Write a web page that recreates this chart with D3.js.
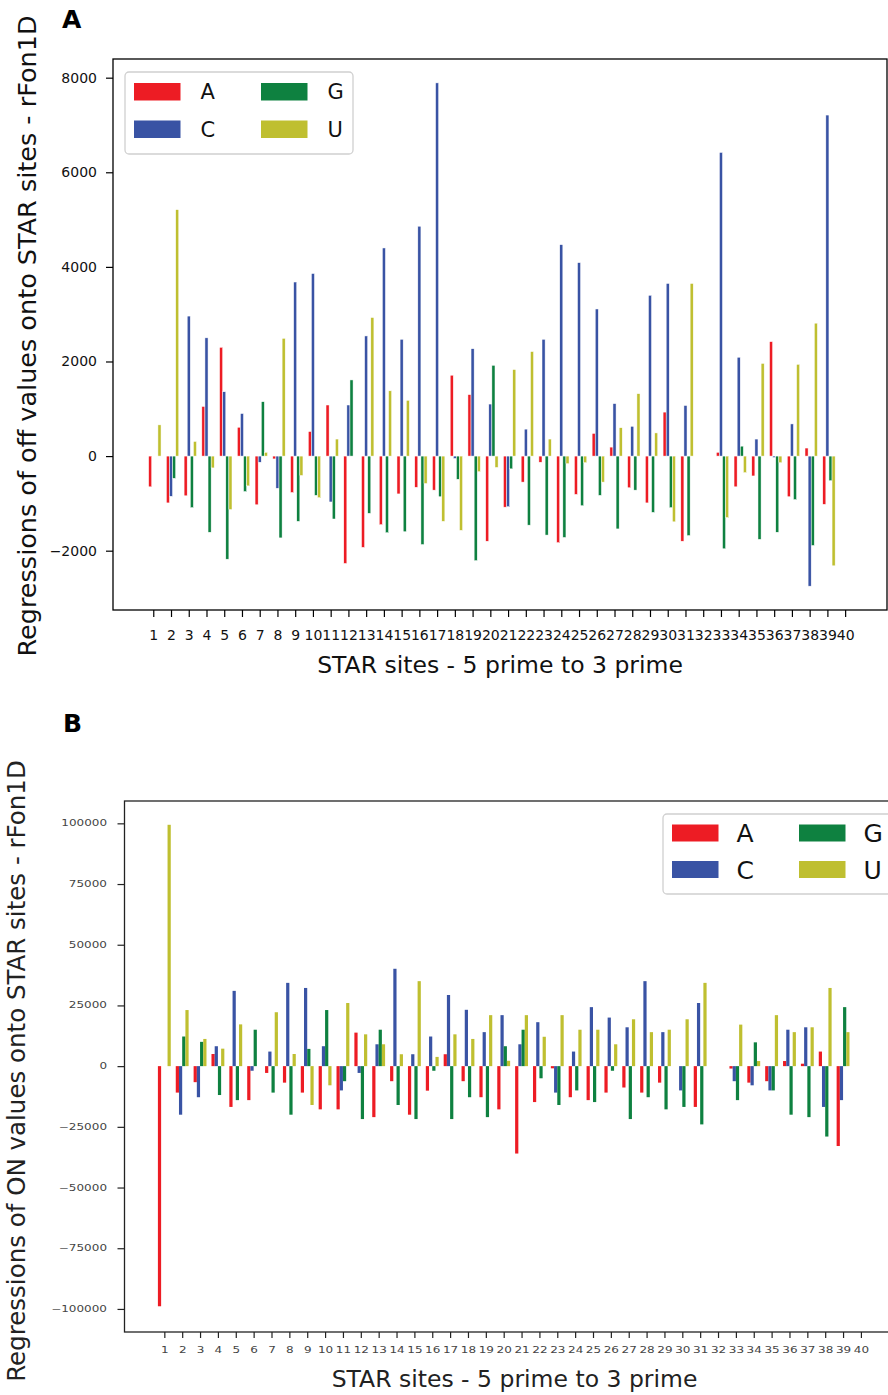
<!DOCTYPE html>
<html lang="en">
<head>
<meta charset="UTF-8">
<title>Regressions onto STAR sites - rFon1D</title>
<script src="https://d3js.org/d3.v7.min.js"></script>
<style>
  body { margin: 0; background: #fff; }
  svg { display: block; font-family: "DejaVu Sans", sans-serif; }
  .frame { fill: none; stroke: #000; stroke-width: 1.3px; }
  .legend-box { fill: #fff; fill-opacity: 0.85; stroke: #d0d0d0; stroke-width: 1.3px; }
</style>
</head>
<body>
<svg id="chart" width="888" height="1395"></svg>
<script>
// categories
const sites = [1, 2, 3, 4, 5, 6, 7, 8, 9, 10, 11, 12, 13, 14, 15, 16, 17, 18, 19, 20,
               21, 22, 23, 24, 25, 26, 27, 28, 29, 30, 31, 32, 33, 34, 35, 36, 37, 38, 39, 40];
const bases = ["A", "C", "G", "U"];
const baseColors = ["#ed1c24", "#3953a4", "#0e8140", "#bfbf30"];

// panel A - regressions of off values
const offA = [-650, -990, -840, 1050, 2300, 610, -1030, -60, -770, 520,
              1080, -2270, -1930, -1450, -800, -660, -720, 1710, 1300, -1800,
              -1080, -550, -130, -1830, -810, 480, 190, -670, -990, 930,
              -1800, 0, 80, -650, -420, 2420, -860, 170, -1020, 0];
const offC = [0, -850, 2960, 2500, 1360, 900, -130, -680, 3680, 3860,
              -970, 1080, 2540, 4400, 2470, 4860, 7890, -50, 2270, 1100,
              -1070, 570, 2470, 4470, 4090, 3110, 1110, 630, 3400, 3650,
              1070, 0, 6420, 2090, 360, -30, 680, -2750, 7210, 0];
const offG = [0, -470, -1090, -1610, -2180, -750, 1150, -1730, -1380, -830,
              -1330, 1610, -1210, -1620, -1600, -1870, -860, -490, -2210, 1920,
              -270, -1460, -1670, -1720, -1050, -830, -1540, -720, -1190, -1090,
              -1680, 0, -1960, 210, -1760, -1610, -920, -1890, -520, 0];
const offU = [660, 5210, 310, -250, -1130, -630, 80, 2490, -410, -880,
              360, 0, 2930, 1380, 1180, -580, -1380, -1570, -330, -240,
              1830, 2210, 360, -160, -140, -550, 600, 1320, 490, -1390,
              3650, 0, -1300, -350, 1960, -140, 1940, 2810, -2320, 0];
const offTicks = [-2000, 0, 2000, 4000, 6000, 8000];

// panel B - regressions of ON values
const onA = [-98900, -10900, -6600, 5000, -16800, -14000, -2800, -6800, -10900, -17800,
             -17800, 13800, -21000, -6200, -20000, -10100, 4900, -6200, -12800, -17800,
             -36000, -14800, -900, -12800, -14000, -10900, -8800, -10900, -6800, 0,
             -16800, 0, -1000, -6800, -6200, 2100, 1000, 6000, -32900, 0];
const onC = [0, -20000, -12800, 8200, 31000, -1900, 6000, 34300, 32200, 8200,
             -10000, -2800, 9000, 40100, 4900, 12200, 29300, 23200, 14000, 21000,
             9000, 18100, -10900, 6000, 24300, 20000, 16000, 35000, 14000, -10000,
             26000, 0, -6200, -7900, -10000, 15000, 16000, -16800, -14000, 0];
const onG = [0, 12200, 10000, -11900, -14000, 15000, -10900, -20000, 7100, 23100,
             -6200, -21800, 15000, -16000, -21800, -1900, -21800, -12800, -21000, 8200,
             15000, -5000, -16000, -10000, -14800, -1900, -21800, -12800, -17800, -16800,
             -24000, 0, -14000, 9800, -10000, -20000, -21000, -29000, 24300, 0];
const onU = [99400, 23100, 11200, 7200, 17200, 0, 22200, 5000, -16000, -7900,
             26000, 13100, 9000, 4900, 35000, 3800, 13100, 11200, 21000, 2200,
             21000, 12100, 21000, 15000, 15000, 9000, 19300, 14000, 15000, 19300,
             34300, 0, 17100, 2100, 21000, 14000, 16000, 32200, 14000, 0];
const onTicks = [-100000, -75000, -50000, -25000, 0, 25000, 50000, 75000, 100000];

const svg = d3.select("#chart");

function drawPanel(p) {
    const g = svg.append("g");
    const x = d3.scaleLinear().domain(p.xDomain).range([p.left, p.right]);
    const y = d3.scaleLinear().domain(p.yDomain).range([p.bottom, p.top]);
    const bw = x(p.barWidth) - x(0);

    // bars, one series per base
    p.series.forEach((vals, i) => {
        g.selectAll(null)
            .data(vals)
            .enter()
            .append("rect")
            .attr("x", (d, j) => x(sites[j] + p.offsets[i] * p.barWidth) - bw / 2)
            .attr("y", d => y(Math.max(0, d)))
            .attr("width", bw)
            .attr("height", d => Math.abs(y(d) - y(0)))
            .attr("fill", baseColors[i])
            .attr("stroke", p.edge ? "#fff" : "none")
            .attr("stroke-width", 0.5);
    });

    // frame
    g.append("rect")
        .attr("class", "frame")
        .attr("x", p.left)
        .attr("y", p.top)
        .attr("width", p.right - p.left)
        .attr("height", p.bottom - p.top)
        .style("stroke", p.frameColor);

    // axes
    const yAxis = g.append("g")
        .attr("transform", `translate(${p.left},0)`)
        .call(d3.axisLeft(y).tickValues(p.yTicks).tickFormat(d3.format("d"))
            .tickSize(7).tickPadding(p.yPad));
    const xAxis = g.append("g")
        .attr("transform", `translate(0,${p.bottom})`)
        .call(d3.axisBottom(x).tickValues(sites).tickFormat(d => d)
            .tickSize(p.xTickLen).tickPadding(p.xPad));
    [xAxis, yAxis].forEach(a => {
        a.select(".domain").remove();
        a.selectAll(".tick line").attr("stroke", p.frameColor).attr("stroke-width", 1.2);
        a.selectAll("text").attr("font-family", "DejaVu Sans").attr("fill", p.tickColor);
    });
    yAxis.selectAll("text").attr("font-size", p.yTickFont);
    xAxis.selectAll("text").attr("font-size", p.xTickFont);
    if (p.stretch) {
        // the lower panel's tick numbers look horizontally stretched
        yAxis.selectAll("text")
            .attr("x", -(7 + p.yPad) / p.stretch)
            .attr("transform", `scale(${p.stretch},1)`);
        xAxis.selectAll("text").attr("transform", `scale(${p.stretch},1)`);
    }

    // axis titles
    g.append("text")
        .attr("transform", `translate(${p.yLabelX},${p.yLabelCY}) rotate(-90)`)
        .attr("text-anchor", "middle")
        .attr("font-size", p.yLabelFont)
        .attr("fill", p.labelColor)
        .text(p.yLabel);
    g.append("text")
        .attr("x", (p.left + p.right) / 2)
        .attr("y", p.xLabelY)
        .attr("text-anchor", "middle")
        .attr("font-size", p.labelFont)
        .attr("fill", p.labelColor)
        .text("STAR sites - 5 prime to 3 prime");

    // panel letter
    g.append("text")
        .attr("x", p.letterX)
        .attr("y", p.letterY)
        .attr("font-size", 25)
        .attr("font-weight", "bold")
        .text(p.letter);

    // legend: two columns, A/C then G/U
    const L = p.legend;
    g.append("rect")
        .attr("class", "legend-box")
        .attr("x", L.x).attr("y", L.y)
        .attr("width", L.w).attr("height", L.h)
        .attr("rx", 4);
    bases.forEach((b, i) => {
        const col = Math.floor(i / 2), row = i % 2;
        const px = L.x + L.padX + col * L.colW;
        const py = L.y + L.padY + row * L.rowH;
        g.append("rect")
            .attr("x", px).attr("y", py)
            .attr("width", L.patchW).attr("height", L.patchH)
            .attr("fill", baseColors[i]);
        g.append("text")
            .attr("x", px + L.patchW + L.gap)
            .attr("y", py + L.patchH / 2)
            .attr("dy", "0.36em")
            .attr("font-size", L.font)
            .attr("fill", "#111")
            .text(b);
    });
}

drawPanel({
    letter: "A", letterX: 62, letterY: 28,
    left: 113, right: 887, top: 59, bottom: 610,
    xDomain: [-1.27, 42.36], yDomain: [-3254, 8395],
    series: [offA, offC, offG, offU],
    offsets: [-1, 0, 1, 2], barWidth: 0.175, edge: true,
    yTicks: offTicks, yPad: 9, yTickFont: 14,
    xTickLen: 7, xPad: 13, xTickFont: 14,
    frameColor: "#000", tickColor: "#111", labelColor: "#111",
    yLabel: "Regressions of off values onto STAR sites - rFon1D",
    yLabelX: 36, yLabelCY: 336, yLabelFont: 25.5,
    xLabelY: 673, labelFont: 23.5,
    legend: { x: 125, y: 72, w: 228, h: 82, padX: 9, padY: 11, colW: 127, rowH: 37.5,
              patchW: 46.5, patchH: 17.5, gap: 20, font: 21 }
});

drawPanel({
    letter: "B", letterX: 63, letterY: 732,
    left: 124.5, right: 904.5, top: 801, bottom: 1332,
    xDomain: [-1.23, 42.44], yDomain: [-109500, 109200],
    series: [onA, onC, onG, onU],
    offsets: [-1.5, -0.5, 0.5, 1.5], barWidth: 0.18, edge: false,
    yTicks: onTicks, yPad: 10.5, yTickFont: 8,
    xTickLen: 6, xPad: 9.5, xTickFont: 8, stretch: 1.5,
    frameColor: "#222", tickColor: "#444", labelColor: "#222",
    yLabel: "Regressions of ON values onto STAR sites - rFon1D",
    yLabelX: 25, yLabelCY: 1071, yLabelFont: 24.5,
    xLabelY: 1387, labelFont: 23.5,
    legend: { x: 663, y: 814, w: 260, h: 80, padX: 9, padY: 10.5, colW: 127, rowH: 36.5,
              patchW: 46.5, patchH: 17, gap: 18, font: 25 }
});
</script>
</body>
</html>
